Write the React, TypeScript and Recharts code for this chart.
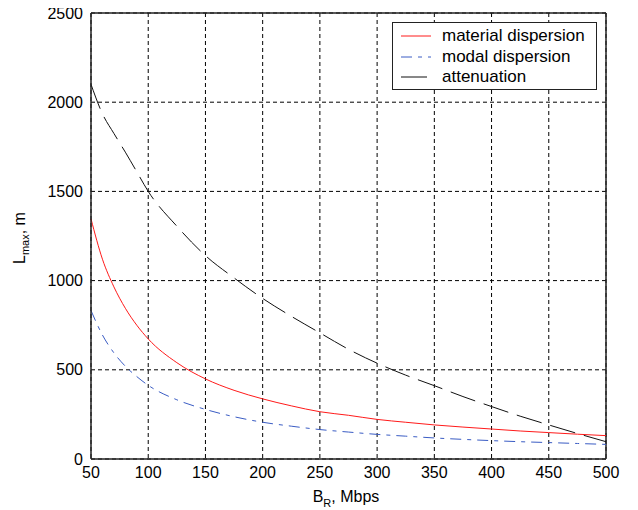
import React from 'react';
import { LineChart, Line, XAxis, YAxis, CartesianGrid, ReferenceLine } from 'recharts';

const xValues = [50, 60, 70, 80, 90, 100, 125, 150, 175, 200, 225, 250, 275, 300, 325, 350, 375, 400, 425, 450, 475, 500];
const materialDispersion = [1346, 1120, 965, 845, 750, 673, 540, 449, 385, 337, 298, 265, 245, 222, 206, 191, 179, 168, 157, 148, 139, 131];
const modalDispersion = [832, 695, 595, 520, 462, 413, 332, 278, 237, 206, 184, 165, 151, 138, 128, 118, 110, 103, 97, 92, 87, 82];
const attenuation = [2100, 1935, 1825, 1720, 1610, 1500, 1305, 1140, 1015, 900, 800, 707, 615, 537, 470, 411, 350, 294, 240, 191, 143, 97];
const xTicks = [50, 100, 150, 200, 250, 300, 350, 400, 450, 500];
const yTicks = [0, 500, 1000, 1500, 2000, 2500];

const seriesNames = ['material dispersion', 'modal dispersion', 'attenuation'];
const seriesKeys = ['material', 'modal', 'atten'];
const seriesColors = ['#ff1a1a', '#3a5cc4', '#111111'];
const seriesDash = ['', '11 6 4 6', '26 9'];

const data = xValues.map((x, i) => ({
  x,
  material: materialDispersion[i],
  modal: modalDispersion[i],
  atten: attenuation[i],
}));

const FONT = '"Liberation Sans", Arial, sans-serif';

const YLabel = () => (
  <text
    x={17}
    y={240}
    transform="rotate(-90, 17, 240)"
    textAnchor="middle"
    fontFamily={FONT}
    fontSize={16}
    fill="#000"
  >
    <tspan>L</tspan>
    <tspan dy={4} fontSize={11}>max</tspan>
    <tspan dy={-4}>, m</tspan>
  </text>
);

const XLabel = () => (
  <text x={338} y={504} textAnchor="middle" fontFamily={FONT} fontSize={16} fill="#000">
    <tspan>B</tspan>
    <tspan dy={5} fontSize={11}>R</tspan>
    <tspan dy={-5}>, Mbps</tspan>
  </text>
);

const LegendBox = () => (
  <div
    style={{
      position: 'absolute',
      left: 384,
      top: 24,
      width: 205,
      height: 68,
      boxSizing: 'border-box',
      border: '1.5px solid #222',
      background: '#fff',
      fontFamily: FONT,
      fontSize: 17,
      color: '#000',
    }}
  >
    {seriesNames.map((name, i) => (
      <div
        key={name}
        style={{ position: 'absolute', left: 0, top: 3 + i * 20.5, height: 20, width: '100%' }}
      >
        <svg width={34} height={20} style={{ position: 'absolute', left: 7, top: 0 }}>
          <line
            x1={1}
            y1={10}
            x2={31}
            y2={10}
            stroke={seriesColors[i]}
            strokeWidth={1}
            strokeDasharray={seriesDash[i] || undefined}
          />
        </svg>
        <span style={{ position: 'absolute', left: 49, top: 0, lineHeight: '20px', whiteSpace: 'nowrap' }}>
          {name}
        </span>
      </div>
    ))}
  </div>
);

export default function App() {
  return (
    <div style={{ position: 'relative', width: 630, height: 510, marginTop: -10 }}>
      <LineChart width={630} height={510} data={data} margin={{ top: 15, right: 32, bottom: 0, left: 0 }}>
        <CartesianGrid stroke="#000" strokeDasharray="4 3" strokeWidth={1} />
        <XAxis
          dataKey="x"
          type="number"
          domain={[50, 500]}
          ticks={xTicks}
          height={49}
          tickLine={false}
          axisLine={{ stroke: '#222', strokeWidth: 1.5 }}
          tick={{ fill: '#000', fontSize: 16, fontFamily: FONT }}
          interval={0}
          label={<XLabel />}
        />
        <YAxis
          type="number"
          domain={[0, 2500]}
          ticks={yTicks}
          width={83}
          tickLine={false}
          axisLine={{ stroke: '#222', strokeWidth: 1.5 }}
          tick={{ fill: '#000', fontSize: 16, fontFamily: FONT }}
          interval={0}
          label={<YLabel />}
        />
        <ReferenceLine y={2500} stroke="#222" strokeWidth={1.5} />
        <ReferenceLine x={500} stroke="#222" strokeWidth={1.5} />
        {seriesKeys.map((k, i) => (
          <Line
            key={k}
            type="monotone"
            dataKey={k}
            name={seriesNames[i]}
            stroke={seriesColors[i]}
            strokeWidth={1}
            strokeDasharray={seriesDash[i] || undefined}
            dot={false}
            isAnimationActive={false}
          />
        ))}
      </LineChart>
      <LegendBox />
    </div>
  );
}
